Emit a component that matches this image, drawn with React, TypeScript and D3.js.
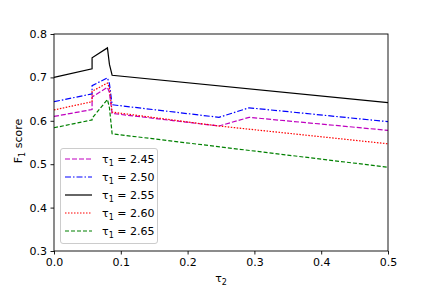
import React, { useRef, useEffect } from 'react';
import * as d3 from 'd3';

// tau_1 values for each curve
const tauLabels = ['2.45', '2.50', '2.55', '2.60', '2.65'];
const colors = ['#bf00bf', '#0000ff', '#000000', '#ff0000', '#008000'];
const dashes = ['5,2', '6,2,1.5,2', null, '1.5,1.5', '4,2'];

// x positions (tau_2) and F1 scores
const xs45 = [0, 0.057, 0.057, 0.08, 0.083, 0.087, 0.247, 0.292, 0.5];
const ys45 = [0.610, 0.626, 0.655, 0.677, 0.665, 0.617, 0.588, 0.608, 0.578];
const xs50 = [0, 0.057, 0.057, 0.08, 0.083, 0.087, 0.247, 0.292, 0.5];
const ys50 = [0.644, 0.662, 0.681, 0.699, 0.685, 0.637, 0.608, 0.630, 0.598];
const xs55 = [0, 0.057, 0.057, 0.08, 0.083, 0.087, 0.5];
const ys55 = [0.700, 0.720, 0.745, 0.768, 0.730, 0.705, 0.642];
const xs60 = [0, 0.057, 0.057, 0.08, 0.083, 0.087, 0.247, 0.5];
const ys60 = [0.625, 0.644, 0.668, 0.687, 0.675, 0.620, 0.588, 0.547];
const xs65 = [0, 0.057, 0.057, 0.08, 0.083, 0.087, 0.5];
const ys65 = [0.584, 0.602, 0.606, 0.649, 0.630, 0.570, 0.493];

const seriesX = [xs45, xs50, xs55, xs60, xs65];
const seriesY = [ys45, ys50, ys55, ys60, ys65];

const xTicks = [0, 0.1, 0.2, 0.3, 0.4, 0.5];
const yTicks = [0.3, 0.4, 0.5, 0.6, 0.7, 0.8];

function Chart() {
  const ref = useRef<SVGSVGElement>(null);

  useEffect(() => {
    const svg = d3.select(ref.current);
    svg.selectAll('*').remove();

    const width = 431, height = 287;
    const m = { left: 54, right: 388, top: 34, bottom: 251 };
    const font = 'DejaVu Sans, sans-serif';

    const x = d3.scaleLinear().domain([0, 0.5]).range([m.left, m.right]);
    const y = d3.scaleLinear().domain([0.3, 0.8]).range([m.bottom, m.top]);

    svg.attr('width', width).attr('height', height);
    svg.append('rect').attr('width', width).attr('height', height).attr('fill', '#fff');

    const line = d3.line<[number, number]>()
      .x((d) => x(d[0]))
      .y((d) => y(d[1]));

    seriesX.forEach((xsArr, i) => {
      const pts = xsArr.map((v, j) => [v, seriesY[i][j]] as [number, number]);
      svg.append('path')
        .datum(pts)
        .attr('fill', 'none')
        .attr('stroke', colors[i])
        .attr('stroke-width', 1.2)
        .attr('stroke-dasharray', dashes[i])
        .attr('d', line);
    });

    // frame
    svg.append('rect')
      .attr('x', m.left).attr('y', m.top)
      .attr('width', m.right - m.left).attr('height', m.bottom - m.top)
      .attr('fill', 'none').attr('stroke', '#000').attr('stroke-width', 0.9);

    const xAxis = svg.append('g')
      .attr('transform', `translate(0,${m.bottom})`)
      .call(d3.axisBottom(x).tickValues(xTicks).tickFormat(d3.format('.1f')).tickSize(3.5).tickPadding(3.5));
    const yAxis = svg.append('g')
      .attr('transform', `translate(${m.left},0)`)
      .call(d3.axisLeft(y).tickValues(yTicks).tickFormat(d3.format('.1f')).tickSize(3.5).tickPadding(3.5));
    [xAxis, yAxis].forEach((g) => {
      g.select('.domain').remove();
      g.selectAll('text').attr('font-family', font).attr('font-size', 11).attr('fill', '#000');
      g.selectAll('line').attr('stroke', '#000').attr('stroke-width', 0.9);
    });

    // axis labels
    const xl = svg.append('text')
      .attr('x', (m.left + m.right) / 2)
      .attr('y', 282)
      .attr('text-anchor', 'middle')
      .attr('font-family', font)
      .attr('font-size', 11);
    xl.append('tspan').text('τ');
    xl.append('tspan').attr('font-size', 8).attr('dy', 3).text('2');

    const yl = svg.append('text')
      .attr('transform', 'rotate(-90)')
      .attr('x', -141)
      .attr('y', 22)
      .attr('text-anchor', 'middle')
      .attr('font-family', font)
      .attr('font-size', 11);
    yl.append('tspan').text('F');
    yl.append('tspan').attr('font-size', 8).attr('dy', 3).text('1');
    yl.append('tspan').attr('dy', -3).text(' score');

    // legend
    const lg = svg.append('g');
    lg.append('rect')
      .attr('x', 60.5).attr('y', 148.5)
      .attr('width', 97).attr('height', 95)
      .attr('rx', 2.5)
      .attr('fill', '#fff').attr('fill-opacity', 0.8)
      .attr('stroke', '#ccc').attr('stroke-width', 1);

    tauLabels.forEach((lab, i) => {
      const cy = 159 + i * 18;
      lg.append('line')
        .attr('x1', 65).attr('x2', 92)
        .attr('y1', cy).attr('y2', cy)
        .attr('stroke', colors[i])
        .attr('stroke-width', 1.2)
        .attr('stroke-dasharray', dashes[i]);
      const t = lg.append('text')
        .attr('x', 102).attr('y', cy + 4)
        .attr('font-family', font)
        .attr('font-size', 11);
      t.append('tspan').text('τ');
      t.append('tspan').attr('font-size', 8).attr('dy', 3).text('1');
      t.append('tspan').attr('dy', -3).text(` = ${lab}`);
    });
  }, []);

  return <svg ref={ref}></svg>;
}

export default function App() {
  return (
    <div style={{ position: 'absolute', left: 0, top: 0 }}>
      <Chart />
    </div>
  );
}
